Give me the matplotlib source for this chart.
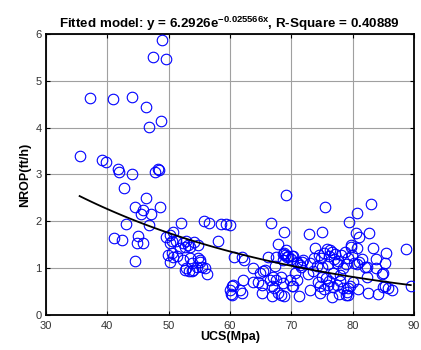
import numpy as np
import matplotlib
matplotlib.use("Agg")
import matplotlib.pyplot as plt

plt.rcParams["font.family"] = ["Liberation Sans", "DejaVu Sans"]
plt.rcParams["mathtext.fontset"] = "custom"
plt.rcParams["mathtext.rm"] = "Liberation Sans:bold"
plt.rcParams["mathtext.bf"] = "Liberation Sans:bold"
plt.rcParams["mathtext.it"] = "Liberation Sans:bold"

# Measured samples: uniaxial compressive strength vs normalised rate of penetration
ucs = [
    35.5, 37.2, 41.0, 44.1, 46.4, 48.9, 47.5, 49.6, 48.7, 46.8,
    39.1, 39.8, 41.7, 41.9, 44.0, 47.8, 48.3, 48.5,
    42.8, 46.4, 44.6, 45.8, 48.6, 45.5, 47.1, 43.0, 46.8,
    41.1, 42.4, 45.0, 44.9, 45.9, 44.5,
    49.6, 50.2, 50.8, 52.0, 50.2, 50.6, 51.2, 52.4, 52.9, 53.5, 52.7, 54.8, 51.8, 53.2,
    50.5, 49.9, 50.8, 50.3, 51.3, 52.4, 53.5, 54.8, 55.1, 52.8, 53.4, 54.0, 55.4, 55.9,
    55.8, 56.6, 58.6, 59.3, 60.0, 58.1, 54.2, 53.8, 56.3, 54.7, 55.1, 53.8, 52.7,
    60.7, 62.3, 61.9, 63.8, 65.4, 64.9, 66.2, 67.6, 69.0, 69.3, 68.7, 70.1, 70.9,
    67.3, 67.1, 67.6, 68.3, 66.5, 68.7, 69.8, 70.3, 65.2, 66.9, 67.8, 68.3, 68.8,
    66.8, 62.2, 60.3, 60.2, 61.6, 63.8, 60.5, 60.1, 61.9, 65.7, 64.6, 65.3, 67.2,
    69.1, 66.7, 68.8, 67.9, 69.1, 68.9, 69.5, 68.6, 69.9, 60.4,
    70.3, 71.7, 71.0, 71.5, 72.9, 73.9, 73.7, 74.5, 75.0, 75.5, 75.9, 76.6, 75.3,
    76.2, 77.0, 77.6, 78.8, 79.8, 79.5, 80.7, 78.2, 79.2, 73.0, 74.2, 75.0, 76.0,
    77.4, 78.5, 79.0, 72.0, 74.8, 76.4, 77.2, 71.6,
    70.6, 70.9, 70.2, 71.3, 73.0, 74.4, 75.0, 75.6, 76.2, 76.0, 76.8, 74.7, 75.3,
    77.4, 78.0, 78.5, 79.1, 79.6, 77.8, 76.6, 74.7, 72.8, 73.5, 76.8, 77.9, 79.0, 80.0,
    83.0, 81.0, 82.7, 88.8, 83.4, 85.5, 83.9, 85.3, 80.7, 79.8, 79.9, 81.0,
    82.1, 83.9, 84.8, 82.4, 89.5, 85.3, 85.8, 86.4, 85.0, 80.9, 82.6, 84.1, 79.3,
    79.3, 80.5, 81.5, 82.3, 85.0, 80.2, 80.7,
]
nrop = [
    3.40, 4.63, 4.61, 4.65, 4.43, 5.87, 5.50, 5.47, 4.15, 4.02,
    3.30, 3.27, 3.12, 3.05, 3.02, 3.06, 3.12, 3.10,
    2.71, 2.50, 2.30, 2.24, 2.31, 2.15, 2.16, 1.94, 1.92,
    1.64, 1.60, 1.69, 1.53, 1.53, 1.15,
    1.66, 1.71, 1.78, 1.97, 1.53, 1.57, 1.57, 1.53, 1.57, 1.46, 1.46, 1.49, 1.42, 1.50,
    1.32, 1.28, 1.23, 1.14, 1.26, 1.17, 1.21, 1.21, 1.14, 1.00, 0.95, 0.96, 1.03, 1.00,
    2.01, 1.96, 1.94, 1.94, 1.92, 1.59, 1.55, 1.10, 0.88, 1.03, 1.17, 0.93, 0.96,
    1.23, 1.17, 1.23, 1.01, 0.95, 0.89, 1.23, 1.23, 1.28, 1.23, 1.17, 1.26, 1.14,
    1.05, 0.82, 0.75, 0.82, 0.75, 0.68, 0.75, 0.61, 0.64, 0.61, 0.46, 0.43, 0.41,
    0.41, 0.75, 0.62, 0.45, 0.53, 0.71, 0.64, 0.53, 0.48, 0.96, 0.71, 0.46, 0.57,
    2.56, 1.96, 1.78, 1.51, 1.39, 1.33, 1.25, 1.30, 1.20, 0.43,
    1.25, 1.14, 1.10, 1.06, 1.73, 1.42, 1.21, 1.28, 1.78, 2.31, 1.40, 1.35, 1.32,
    1.25, 1.20, 1.15, 1.35, 1.46, 1.99, 2.17, 1.28, 1.21, 1.10, 1.05, 1.03, 1.08,
    1.10, 1.00, 1.08, 1.18, 1.22, 1.38, 1.30, 1.02,
    0.89, 0.75, 0.61, 0.41, 0.53, 0.71, 0.82, 0.78, 0.73, 0.64, 0.60, 0.62, 0.55,
    0.65, 0.73, 0.58, 0.50, 0.62, 0.44, 0.39, 0.46, 0.88, 0.93, 0.90, 0.86, 0.43, 0.70,
    2.38, 1.67, 1.74, 1.40, 1.42, 1.32, 1.19, 1.10, 1.42, 1.49, 1.28, 1.14,
    1.02, 1.00, 0.88, 0.82, 0.61, 0.61, 0.57, 0.53, 0.60, 0.55, 0.46, 0.45, 0.57,
    0.43, 1.74, 1.20, 1.03, 0.89, 1.10, 1.09,
]

# Exponential fit reported in the title
fit_a = 6.2926
fit_b = -0.025566
fit_range = (35.5, 89.5)

fig = plt.figure(figsize=(4.21, 3.5), dpi=100)
ax = fig.add_axes([0.109, 0.1, 0.874, 0.803])

ax.plot(ucs, nrop, linestyle="none", marker="o", markersize=7.6,
        markerfacecolor="none", markeredgecolor="#0000ff", markeredgewidth=0.8,
        zorder=3)

xf = np.linspace(fit_range[0], fit_range[1], 60)
ax.plot(xf, fit_a * np.exp(fit_b * xf), color="black", linewidth=1.3, zorder=4)

ax.set_xlim(30, 90)
ax.set_ylim(0, 6)
ax.set_xticks(np.arange(30, 91, 10))
ax.set_yticks(np.arange(0, 7, 1))
ax.grid(True, color="#a0a0a0", linewidth=0.8, linestyle="-")
ax.set_axisbelow(True)
ax.tick_params(direction="in", length=3, width=0.8, top=True, right=True,
               labelsize=8, colors="black", labelcolor="#333333")
ax.tick_params(axis="x", pad=4)
ax.tick_params(axis="y", pad=3)
for s in ax.spines.values():
    s.set_linewidth(1.3)
    s.set_color("black")

ax.set_xlabel("UCS(Mpa)", fontsize=9, fontweight="bold", labelpad=0)
ax.set_ylabel("NROP(ft/h)", fontsize=9, fontweight="bold", labelpad=3)
ax.set_title(r"Fitted model: y = 6.2926e$^{-0.025566x}$, R-Square = 0.40889",
             fontsize=9.6, fontweight="bold", pad=4)

fig.savefig("out.png", dpi=100)
